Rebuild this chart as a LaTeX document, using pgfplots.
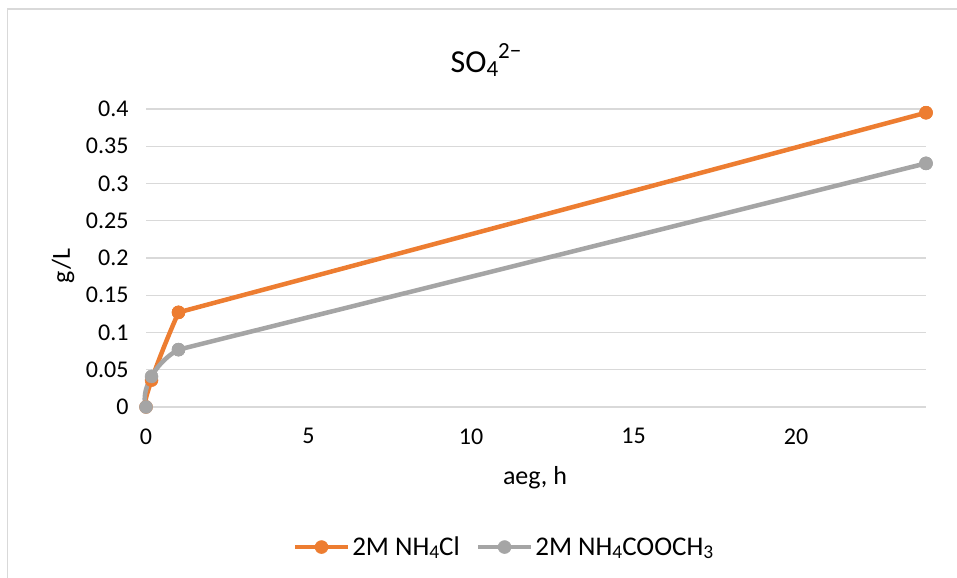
\documentclass[border=0pt]{standalone}
\usepackage{fontspec}
\setmainfont{Carlito}
\usepackage{pgfplots}
\pgfplotsset{compat=1.18}
\definecolor{cOrange}{HTML}{ED7D31}
\definecolor{cGray}{HTML}{A5A5A5}
\definecolor{cGrid}{HTML}{D9D9D9}
\newcommand\sub[1]{\raisebox{-0.12em}{\scalebox{0.72}{#1}}}
\begin{document}
\begin{tikzpicture}[x=1bp,y=1bp]
\useasboundingbox (0,0) rectangle (957,578);
\fill[white] (0,0) rectangle (957,578);
\draw[cGrid, line width=1.5bp] (7.5,-5) -- (7.5,569) -- (965,569);
\begin{axis}[
  at={(146bp,171bp)}, anchor=south west,
  width=780bp, height=298bp, scale only axis,
  xmin=0, xmax=24, ymin=0, ymax=0.4,
  clip=false,
  axis line style={draw=none},
  major tick length=0pt,
  xtick={0,5,10,15,20}, xticklabels={0,5,10,15,20},
  ytick={0,0.05,0.1,0.15,0.2,0.25,0.3,0.35,0.4},
  yticklabels={0,0.05,0.1,0.15,0.2,0.25,0.3,0.35,0.4},
  ymajorgrids, grid style={cGrid, line width=1.3bp},
  ticklabel style={font=\fontsize{24bp}{28bp}\selectfont},
  xticklabel style={yshift=-18bp},
  yticklabel style={xshift=-14bp},
  legend style={at={(0.459,-0.47)}, anchor=center, draw=none, fill=none,
    legend columns=2, font=\fontsize{27bp}{30bp}\selectfont,
    /tikz/every even column/.append style={column sep=14bp},
    /tikz/every odd column/.append style={inner xsep=0bp},
    legend cell align=left},
  legend image code/.code={\draw[mark repeat=2,mark phase=2,#1] plot coordinates {(0bp,0bp) (26.5bp,0bp) (53bp,0bp)};},
  ser/.style={line width=4.5bp, mark size=6.5bp, mark options={solid, fill=#1, draw=#1, line width=0.5bp}, color=#1},
]
% 2M NH4Cl
\addplot[ser=cOrange, smooth, tension=1.2, no marks, forget plot]
  coordinates {(0,0) (0.17,0.036) (1,0.127)};
\addplot[ser=cOrange, mark=*]
  coordinates {(1,0.127) (24,0.395)};
\addlegendentry{2M NH\sub{4}Cl}
\addplot[ser=cOrange, only marks, mark=*, forget plot]
  coordinates {(0,0) (0.17,0.036) (1,0.127) (24,0.395)};
% 2M NH4COOCH3
\addplot[ser=cGray, smooth, tension=1.2, no marks, forget plot]
  coordinates {(0,0) (0.17,0.041) (1,0.077)};
\addplot[ser=cGray, mark=*]
  coordinates {(1,0.077) (24,0.327)};
\addlegendentry{2M NH\sub{4}COOCH\sub{3}}
\addplot[ser=cGray, only marks, mark=*, forget plot]
  coordinates {(0,0) (0.17,0.041) (1,0.077) (24,0.327)};
\end{axis}
\node at (486,518) {\fontsize{32bp}{38bp}\selectfont SO\sub{4}\raisebox{0.45em}{\scalebox{0.72}{2−}}};
\node[rotate=90] at (63,312) {\fontsize{26bp}{30bp}\selectfont g/L};
\node at (535,100) {\fontsize{26bp}{30bp}\selectfont aeg, h};
\end{tikzpicture}
\end{document}
